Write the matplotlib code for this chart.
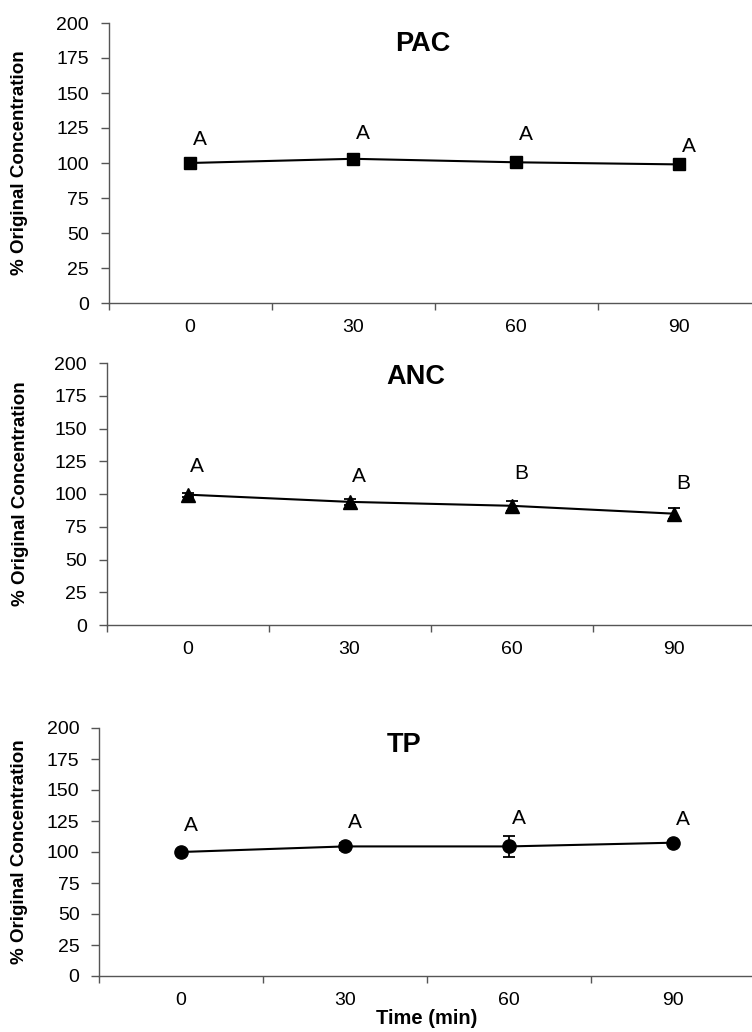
import matplotlib
matplotlib.use("Agg")
import matplotlib.pyplot as plt

plt.rcParams['font.family'] = ['Liberation Sans', 'DejaVu Sans']

times = ["0", "30", "60", "90"]
yticks = [0, 25, 50, 75, 100, 125, 150, 175, 200]

pac_vals = [100, 103, 100.5, 99]
pac_err = [1.5, 3.5, 2, 1.5]
pac_letters = ["A", "A", "A", "A"]
pac_letter_y = [117, 121, 120, 112]

anc_vals = [99.5, 94, 91, 85]
anc_err = [1.5, 2.5, 4, 4]
anc_letters = ["A", "A", "B", "B"]
anc_letter_y = [121, 113, 116, 108]

tp_vals = [100, 104.5, 104.5, 107.5]
tp_err = [1.5, 3, 8.5, 1.5]
tp_letters = ["A", "A", "A", "A"]
tp_letter_y = [121, 124, 127, 126]

W, H = 752, 1032
fig = plt.figure(figsize=(W / 100, H / 100), dpi=100)

AXC = '#555555'

panels = [
    # title, vals, err, letters, letter_y, marker, msize, title pos, (left, bottom_px, top_px, spacing)
    ("PAC", pac_vals, pac_err, pac_letters, pac_letter_y, "s", 9, (1.43, 185), (108.5, 303, 23, 163)),
    ("ANC", anc_vals, anc_err, anc_letters, anc_letter_y, "^", 9.5, (1.41, 189), (106.5, 625, 363, 162)),
    ("TP", tp_vals, tp_err, tp_letters, tp_letter_y, "o", 9.5, (1.36, 186), (99, 976, 728, 164)),
]

for i, (title, vals, err, letters, ly, mk, ms, tpos, (lpx, bpx, tpx, sp)) in enumerate(panels):
    left = lpx / W
    width = 4 * sp / W
    bottom = 1 - bpx / H
    height = (bpx - tpx) / H
    ax = fig.add_axes([left, bottom, width, height])
    x = list(range(len(times)))
    ax.errorbar(x, vals, yerr=err, color='black', marker=mk, markersize=ms,
                linewidth=1.5, elinewidth=1.3, capsize=4, capthick=1.3, zorder=3)
    for xi, lab, yv in zip(x, letters, ly):
        ax.text(xi + 0.06, yv, lab, ha='center', va='center', fontsize=15)
    ax.set_xlim(-0.5, 3.5)
    ax.set_ylim(0, 200)
    ax.set_yticks(yticks)
    ax.set_xticks(x)
    ax.set_xticklabels(times)
    ax.set_xticks([-0.5, 0.5, 1.5, 2.5], minor=True)
    ax.tick_params(axis='x', which='major', length=0, pad=11.5, labelsize=14)
    ax.tick_params(axis='x', which='minor', length=5, direction='out', width=1, color=AXC)
    ax.tick_params(axis='y', which='major', length=6, direction='out', width=1,
                   pad=8, labelsize=14, color=AXC)
    for s in ['top', 'right']:
        ax.spines[s].set_visible(False)
    for s in ['left', 'bottom']:
        ax.spines[s].set_color(AXC)
        ax.spines[s].set_linewidth(1)
    ax.text(tpos[0], tpos[1], title, ha='center', va='center',
            fontsize=19.5, fontweight='bold')
    ax.set_ylabel("% Original Concentration", fontsize=13.5, fontweight='bold')
    ax.yaxis.label.set_va('center')
    ax.yaxis.set_label_coords(-(lpx - 20) / (4 * sp), 0.5)
    if i == 2:
        ax.set_xlabel("Time (min)", fontsize=14.5, fontweight='bold')
        ax.xaxis.set_label_coords((427 - lpx) / (4 * sp), -(1019 - bpx) / (bpx - tpx))
        ax.xaxis.label.set_va('center')

fig.savefig("out.png", dpi=100)
